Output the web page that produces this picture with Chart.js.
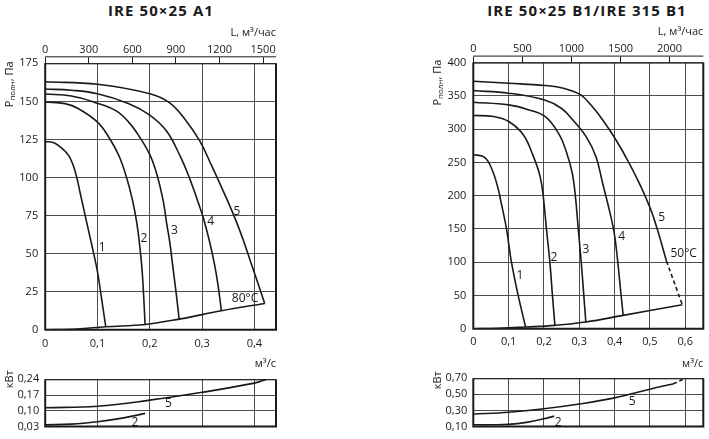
<!DOCTYPE html>
<html lang="ru">
<head>
<meta charset="utf-8">
<title>IRE 50×25</title>
<script src="https://cdn.jsdelivr.net/npm/chart.js"></script>
<style>
  body { margin: 0; background: #fff; }
  #page { position: relative; width: 709px; height: 439px; overflow: hidden; }
  #page canvas { position: absolute; left: 0; top: 0; }
  .title { position: absolute; top: 0; height: 19px; line-height: 19px; text-align: center;
           font: 700 15px 'Open Sans', sans-serif; color: #1a1a1a; letter-spacing: 1.1px; white-space: nowrap; }
</style>
</head>
<body>
<div id="page">
  <div class="title" style="left:41px;width:240px">IRE 50×25 A1</div>
  <div class="title" style="left:467px;width:240px">IRE 50×25 B1/IRE 315 B1</div>
  <canvas id="a1" width="709" height="439"></canvas>
  <canvas id="a1n" width="709" height="439"></canvas>
  <canvas id="b1" width="709" height="439"></canvas>
  <canvas id="b1n" width="709" height="439"></canvas>
</div>
<script>
// ---- IRE 50x25 A1 : Q, м³/с  ->  P полн, Па
const a1q1 = [0, 0.015, 0.0255, 0.0446, 0.0573, 0.0668, 0.0764, 0.0895, 0.1, 0.108, 0.1158];
const a1p1 = [123.7, 123, 121, 114.5, 104, 90, 75, 55, 38, 20, 2];
const a1q2 = [0, 0.038, 0.0637, 0.1, 0.122, 0.141, 0.156, 0.167, 0.175, 0.1814, 0.186, 0.191];
const a1p2 = [149.6, 148.5, 145.2, 136.4, 126.3, 114.3, 99.5, 85, 70.6, 53.1, 35.5, 3.5];
const a1q3 = [0, 0.05, 0.095, 0.135, 0.16, 0.179, 0.2, 0.2136, 0.226, 0.2319, 0.2382, 0.2446, 0.251, 0.2561];
const a1p3 = [154.8, 153.5, 149.3, 143.9, 136.2, 127.4, 115, 102, 84, 70.6, 57.5, 39.9, 22.4, 7];
const a1q4 = [0, 0.05, 0.1, 0.16, 0.2, 0.232, 0.2574, 0.2765, 0.2924, 0.302, 0.3146, 0.3242, 0.3306, 0.3369];
const a1p4 = [158.1, 157.3, 155, 148.5, 141, 130.5, 114.5, 99.1, 83.8, 73.9, 57.5, 42.1, 29, 12.5];
const a1q5 = [0, 0.1, 0.2, 0.238, 0.27, 0.2955, 0.318, 0.334, 0.362, 0.378, 0.391, 0.404, 0.4197];
const a1p5 = [162.9, 161.2, 155, 149, 137, 124, 108, 96, 74, 59.6, 46.5, 33.3, 17.3];
const a1qs = [0, 0.06, 0.1158, 0.191, 0.2561, 0.3369, 0.4197];   // сеть, 80°C
const a1ps = [0, 0.5, 2, 3.5, 7, 12.5, 17.3];
// мощность, кВт
const a1nq5 = [0, 0.1, 0.2, 0.3, 0.4, 0.4235];
const a1n5 = [0.113, 0.12, 0.147, 0.182, 0.223, 0.24];
const a1nq2 = [0, 0.05, 0.1, 0.15, 0.191];
const a1n2 = [0.037, 0.04, 0.051, 0.068, 0.088];

// ---- IRE 50x25 B1 / IRE 315 B1
const b1q1 = [0, 0.028, 0.042, 0.057, 0.071, 0.077, 0.094, 0.108, 0.127, 0.148];
const b1p1 = [261.5, 259, 251.5, 234, 209, 194, 150, 100, 50, 2.5];
const b1q2 = [0, 0.057, 0.1, 0.1415, 0.17, 0.189, 0.198, 0.207, 0.2167, 0.224, 0.231];
const b1p2 = [320.5, 319, 311.5, 291.5, 259, 229, 199, 150, 100, 50, 5];
const b1q3 = [0, 0.1, 0.151, 0.203, 0.243, 0.264, 0.28, 0.289, 0.297, 0.3055, 0.3125, 0.3185];
const b1p3 = [340.5, 336.5, 330, 319, 292, 265, 234, 199, 150, 100, 52, 10];
const b1q4 = [0, 0.1, 0.2, 0.25, 0.2812, 0.3188, 0.347, 0.3659, 0.3847, 0.3988, 0.4082, 0.4157, 0.4242];
const b1p4 = [358, 354, 344, 331, 314, 289, 259, 219, 179, 144, 104, 64, 20];
const b1q5 = [0, 0.102, 0.203, 0.255, 0.304, 0.335, 0.3659, 0.4035, 0.4411, 0.474, 0.5023, 0.5211, 0.5465];
const b1p5 = [372, 369, 365.5, 361.5, 351.5, 335, 314, 284, 249, 214, 179, 149, 102];
const b1q5d = [0.5465, 0.5915];                                   // пунктир после 50°C
const b1p5d = [102, 36];
const b1qs = [0, 0.07, 0.148, 0.231, 0.3185, 0.4242, 0.5915];
const b1ps = [0, 0.6, 2.5, 5, 10, 20, 36];
const b1nq5 = [0, 0.1, 0.2, 0.3, 0.4, 0.5, 0.565];
const b1n5 = [0.254, 0.277, 0.32, 0.38, 0.456, 0.564, 0.63];
const b1nq5d = [0.565, 0.6];
const b1n5d = [0.63, 0.70];
const b1nq2 = [0, 0.05, 0.1, 0.15, 0.2, 0.229];
const b1n2 = [0.12, 0.12, 0.125, 0.15, 0.195, 0.228];

// ticks
const a1QTicks = [0, 0.1, 0.2, 0.3, 0.4];
const a1LTicks = [0, 300, 600, 900, 1200, 1500];
const a1PTicks = [0, 25, 50, 75, 100, 125, 150, 175];
const a1NTicks = [0.03, 0.10, 0.17, 0.24];
const b1QTicks = [0, 0.1, 0.2, 0.3, 0.4, 0.5, 0.6];
const b1LTicks = [0, 500, 1000, 1500, 2000];
const b1PTicks = [0, 50, 100, 150, 200, 250, 300, 350, 400];
const b1NTicks = [0.10, 0.30, 0.50, 0.70];

// curve labels
const a1Marks = ['1', '2', '3', '4', '5', '80°C'];
const a1MarkQ = [0.109, 0.189, 0.247, 0.3164, 0.3667, 0.382];
const a1MarkP = [54.2, 60, 64.9, 71, 77.5, 20.2];
const b1Marks = ['1', '2', '3', '4', '5', '50°C'];
const b1MarkQ = [0.132, 0.2284, 0.319, 0.42, 0.533, 0.5955];
const b1MarkP = [79.8, 107.4, 118.4, 138.4, 167, 113.5];
const nMarks = ['5', '2'];
const a1nMarkQ = [0.2354, 0.1717];
const a1nMarkV = [0.1336, 0.0466];
const b1nMarkQ = [0.45, 0.2406];
const b1nMarkV = [0.41, 0.1464];

const FONT = "'Open Sans', sans-serif";
const INK = '#1a1a1a';
const GRID = '#4d4d4d';
Chart.defaults.font.family = FONT;
Chart.defaults.font.size = 11;
Chart.defaults.color = INK;

const comma = (v, d) => v.toFixed(d).replace('.', ',');
const pts = (q, v) => q.map((x, i) => ({ x, y: v[i] }));
const curve = (q, v, dashed) => ({
  data: pts(q, v), showLine: true, fill: false,
  borderColor: INK, borderWidth: 1.6, pointRadius: 0,
  tension: 0.4, borderDash: dashed ? [4, 3] : []
});

function rotText(ctx, parts, cx, cy) {
  ctx.save();
  ctx.translate(cx, cy);
  ctx.rotate(-Math.PI / 2);
  ctx.textAlign = 'left';
  ctx.textBaseline = 'middle';
  let w = 0;
  parts.forEach(p => { ctx.font = p.s + 'px ' + FONT; w += ctx.measureText(p.t).width; });
  let x = -w / 2;
  parts.forEach(p => {
    ctx.font = p.s + 'px ' + FONT;
    ctx.fillText(p.t, x, p.dy || 0);
    x += ctx.measureText(p.t).width;
  });
  ctx.restore();
}

function decor(d) {
  return {
    id: 'decor',
    afterDraw(chart) {
      const { ctx, chartArea: a, scales } = chart;
      ctx.save();
      ctx.strokeStyle = INK;
      ctx.lineWidth = 1;
      ctx.beginPath(); ctx.moveTo(a.left, a.top + 0.5); ctx.lineTo(a.right, a.top + 0.5); ctx.stroke();
      if (d.topLine) {
        ctx.beginPath(); ctx.moveTo(a.left, a.top - 6.5); ctx.lineTo(a.right, a.top - 6.5); ctx.stroke();
      }
      ctx.lineWidth = 2;
      ctx.beginPath();
      ctx.moveTo(a.left, a.top); ctx.lineTo(a.left, a.bottom);
      ctx.lineTo(a.right, a.bottom); ctx.lineTo(a.right, a.top);
      ctx.stroke();

      ctx.fillStyle = INK;
      ctx.font = '12px ' + FONT;
      ctx.textAlign = 'center';
      ctx.textBaseline = 'middle';
      d.marks.forEach((t, i) =>
        ctx.fillText(t, scales.x.getPixelForValue(d.mq[i]), scales.y.getPixelForValue(d.mv[i])));

      ctx.font = '11px ' + FONT;
      ctx.textAlign = 'right';
      ctx.fillText(d.unit, a.right, a.top - d.unitDy);
      rotText(ctx, d.yTitle, a.left - 35, a.top + d.yTitleDy);
      ctx.restore();
    }
  };
}

function build(id, o) {
  const b = o.box;
  const scales = {
    x: {
      type: 'linear', min: 0, max: o.qMax,
      afterBuildTicks: s => { s.ticks = o.qTicks.map(value => ({ value })); },
      afterFit: s => { s.height = o.bottomH; },
      grid: { color: GRID, lineWidth: 1, drawTicks: false },
      border: { display: false },
      ticks: { display: o.bottomH > 0, padding: 7, callback: v => v === 0 ? '0' : comma(v, 1) }
    },
    y: {
      type: 'linear', min: o.yTicks[0], max: o.yTicks[o.yTicks.length - 1],
      afterBuildTicks: s => { s.ticks = o.yTicks.map(value => ({ value })); },
      afterFit: s => { s.width = 45; },
      grid: { color: GRID, lineWidth: 1, drawTicks: false },
      border: { display: false },
      ticks: { padding: o.yPad, callback: o.yFmt }
    }
  };
  if (o.lTicks) {
    scales.x2 = {
      type: 'linear', position: 'top', min: 0, max: o.qMax * 3600,
      afterBuildTicks: s => { s.ticks = o.lTicks.map(value => ({ value })); },
      afterFit: s => { s.height = b.t; },
      grid: { drawOnChartArea: false, drawTicks: true, tickLength: 6, color: INK, tickColor: INK },
      border: { display: false },
      ticks: { padding: 1, callback: v => String(v) }
    };
  }
  new Chart(document.getElementById(id), {
    type: 'scatter',
    data: { datasets: o.sets },
    options: {
      responsive: false, animation: false, events: [],
      plugins: { legend: { display: false }, tooltip: { enabled: false } },
      layout: { padding: { left: b.l - 45, top: o.lTicks ? 0 : b.t, right: 709 - b.r, bottom: 439 - b.b - o.bottomH } },
      scales
    },
    plugins: [decor(o.decor)]
  });
}

const pTitle = [{ t: 'Р', s: 11 }, { t: 'полн', s: 8, dy: 2.5 }, { t: ', Па', s: 11 }];
const nTitle = [{ t: 'кВт', s: 11 }];

build('a1', {
  box: { l: 45.2, t: 63.3, r: 276, b: 329.8 }, bottomH: 20,
  qMax: 0.4413, qTicks: a1QTicks, lTicks: a1LTicks, yTicks: a1PTicks, yPad: 7, yFmt: v => String(v),
  sets: [curve(a1q1, a1p1), curve(a1q2, a1p2), curve(a1q3, a1p3), curve(a1q4, a1p4), curve(a1q5, a1p5), curve(a1qs, a1ps)],
  decor: { topLine: true, marks: a1Marks, mq: a1MarkQ, mv: a1MarkP, unit: 'L, м³/час', unitDy: 30.6, yTitle: pTitle, yTitleDy: 21 }
});
build('a1n', {
  box: { l: 45.2, t: 379.3, r: 276, b: 430 }, bottomH: 0,
  qMax: 0.4413, qTicks: a1QTicks, yTicks: a1NTicks, yPad: 6, yFmt: v => comma(v, 2),
  sets: [curve(a1nq5, a1n5), curve(a1nq2, a1n2)],
  decor: { marks: nMarks, mq: a1nMarkQ, mv: a1nMarkV, unit: 'м³/с', unitDy: 15, yTitle: nTitle, yTitleDy: 0 }
});
build('b1', {
  box: { l: 473.3, t: 62.6, r: 703.3, b: 328.7 }, bottomH: 20,
  qMax: 0.651, qTicks: b1QTicks, lTicks: b1LTicks, yTicks: b1PTicks, yPad: 7, yFmt: v => String(v),
  sets: [curve(b1q1, b1p1), curve(b1q2, b1p2), curve(b1q3, b1p3), curve(b1q4, b1p4), curve(b1q5, b1p5),
         curve(b1q5d, b1p5d, true), curve(b1qs, b1ps)],
  decor: { topLine: true, marks: b1Marks, mq: b1MarkQ, mv: b1MarkP, unit: 'L, м³/час', unitDy: 30.6, yTitle: pTitle, yTitleDy: 20 }
});
build('b1n', {
  box: { l: 473.3, t: 378.3, r: 703.3, b: 430 }, bottomH: 0,
  qMax: 0.651, qTicks: b1QTicks, yTicks: b1NTicks, yPad: 6, yFmt: v => comma(v, 2),
  sets: [curve(b1nq5, b1n5), curve(b1nq5d, b1n5d, true), curve(b1nq2, b1n2)],
  decor: { marks: nMarks, mq: b1nMarkQ, mv: b1nMarkV, unit: 'м³/с', unitDy: 14, yTitle: nTitle, yTitleDy: 2 }
});
</script>
</body>
</html>
